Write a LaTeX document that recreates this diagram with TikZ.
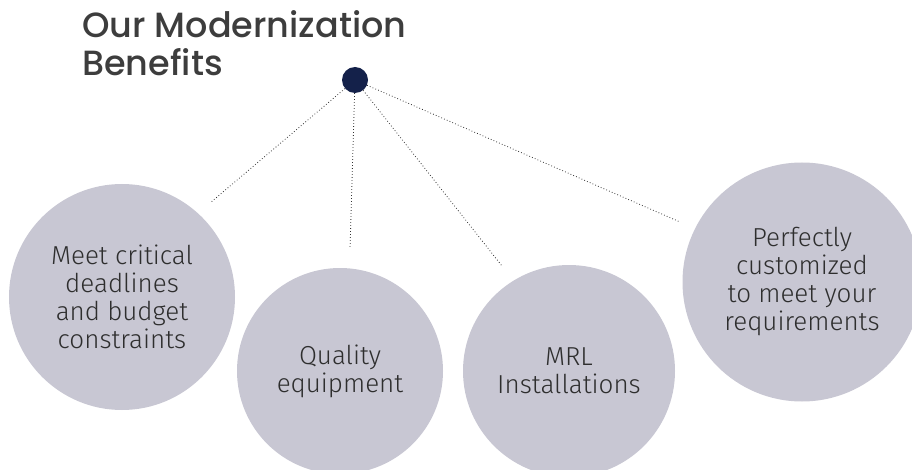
\documentclass[tikz,border=0pt]{standalone}
\usepackage{fontspec}
\setmainfont{Fira Sans Light}
\newfontfamily\headfont{Poppins Medium}
\definecolor{bubblegray}{HTML}{C8C7D3}
\definecolor{hubnavy}{HTML}{14214A}
\definecolor{textgray}{HTML}{2E2E2E}
\definecolor{headgray}{HTML}{3D3D3D}

\begin{document}
\begin{tikzpicture}[x=1pt, y=-1pt,
    benefit/.style={circle, fill=bubblegray, text=textgray, align=center,
        inner sep=0pt, font=\fontsize{26}{28}\selectfont},
    link/.style={line width=0.8pt, dash pattern=on 0.8pt off 2.2pt, black!80}
]
    \useasboundingbox (0,0) rectangle (912,470);

    % title
    \node[anchor=north west, align=left, text=headgray, inner sep=0pt,
        font=\headfont\fontsize{35}{38}\selectfont] (title) at (82,10)
        {Our Modernization\\Benefits};

    % benefit bubbles
    \node[benefit, minimum size=226pt] (meet) at (122,297)
        {Meet critical\\deadlines\\and budget\\constraints};
    \node[benefit, minimum size=206pt] (quality) at (340,371)
        {Quality\\equipment};
    \node[benefit, minimum size=212pt] (mrl) at (569,371)
        {MRL\\Installations};
    \node[benefit, minimum size=239pt] (custom) at (802,282)
        {Perfectly\\customized\\to meet your\\requirements};

    % hub and dotted links
    \node[circle, fill=hubnavy, minimum size=26pt, inner sep=0pt] (hub) at (355,80) {};
    \coordinate (e1) at (210,203);
    \coordinate (e2) at (350,249);
    \coordinate (e3) at (502,266);
    \coordinate (e4) at (680,222);
    \foreach \e in {e1,e2,e3,e4}
        \draw[link] (hub) -- (\e);
\end{tikzpicture}
\end{document}
